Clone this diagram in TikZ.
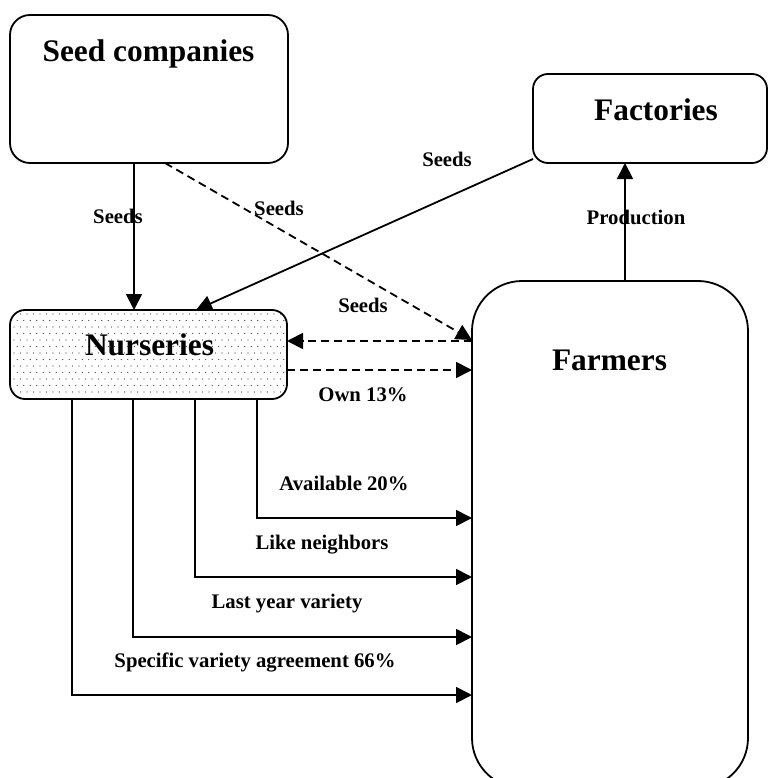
\documentclass[tikz,border=0pt]{standalone}
\usepackage{fontspec}
\setmainfont{Liberation Serif}
\usetikzlibrary{arrows.meta}
\tikzset{
  box/.style={draw, line width=1.8bp, rectangle, inner sep=0pt, outer sep=0pt},
  title/.style={anchor=base, inner sep=0pt, font=\fontsize{31.5}{36}\selectfont\bfseries},
  lbl/.style={anchor=base, inner sep=0pt, font=\fontsize{20.8}{24}\selectfont\bfseries},
  conn/.style={line width=1.8bp, -{Triangle[length=16bp,width=16bp]}},
  dashconn/.style={conn, dash pattern=on 8bp off 5bp},
}
\begin{document}
\begin{tikzpicture}[x=1bp,y=-1bp]
\useasboundingbox (0,0) rectangle (769,778);
\clip (0,0) rectangle (769,778);

% dotted fill of the nurseries box
\begin{scope}
  \clip[rounded corners=15bp] (10,310) rectangle (287,399);
  \foreach \r in {0,...,13} {
    \foreach \c in {0,...,42} {
      \pgfmathsetmacro\xx{14+6.5*\c+3.25*mod(\r,2)}
      \pgfmathsetmacro\yy{314+6.5*\r}
      \fill[black!75] (\xx,\yy) circle (0.6bp);
    }
  }
\end{scope}

% boxes
\node[box, rounded corners=20bp, minimum width=278bp, minimum height=148bp] (sc) at (149,89) {};
\node[box, rounded corners=15bp, minimum width=234bp, minimum height=89bp] (fac) at (650,118.5) {};
\node[box, rounded corners=15bp, minimum width=277bp, minimum height=89bp] (nur) at (148.5,354.5) {};
\node[box, rounded corners=50bp, minimum width=276bp, minimum height=507bp] (fa) at (610,534.5) {};

% box titles
\node[title] (tsc) at (148.5,62) {Seed companies};
\node[title] (tfac) at (656,120) {Factories};
\node[title] (tnur) at (149.5,355) {Nurseries};
\node[title] (tfa) at (609.5,370) {Farmers};

% seed flows
\draw[conn] (134,0 |- sc.south) -- (134,0 |- nur.north);
\draw[dashconn] (165,0 |- sc.south) -- (fa.west |- 0,340);
\draw[conn] (fac.west |- 0,159) -- (196,0 |- nur.north);
\draw[dashconn] (fa.west |- 0,341) -- (nur.east |- 0,341);
\draw[dashconn] (nur.east |- 0,370) -- (fa.west |- 0,370);
\draw[conn] (625,0 |- fa.north) -- (625,0 |- fac.south);

% choice criteria
\draw[conn] (257,0 |- nur.south) |- (fa.west |- 0,518);
\draw[conn] (195,0 |- nur.south) |- (fa.west |- 0,577);
\draw[conn] (133,0 |- nur.south) |- (fa.west |- 0,637);
\draw[conn] (72,0 |- nur.south) |- (fa.west |- 0,695);

% labels
\node[lbl] (l1) at (118,223) {Seeds};
\node[lbl] (l2) at (279,215) {Seeds};
\node[lbl] (l3) at (447,166) {Seeds};
\node[lbl] (l4) at (363,312) {Seeds};
\node[lbl] (l5) at (363,401) {Own 13\%};
\node[lbl] (l6) at (636,224) {Production};
\node[lbl] (l7) at (344,490) {Available 20\%};
\node[lbl] (l8) at (322,549) {Like neighbors};
\node[lbl] (l9) at (287,608) {Last year variety};
\node[lbl] (l10) at (255,667) {Specific variety agreement 66\%};
\end{tikzpicture}
\end{document}
